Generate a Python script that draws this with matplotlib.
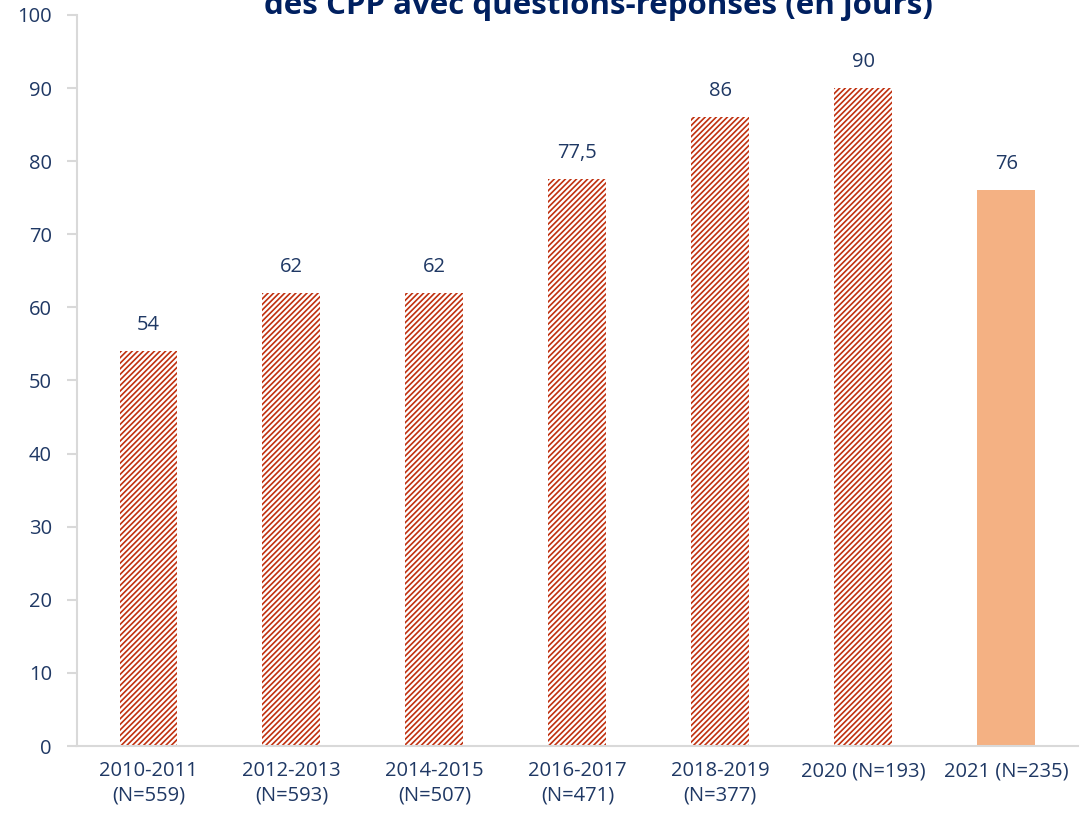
import matplotlib.pyplot as plt
import numpy as np

plt.rcParams['font.family'] = ['Open Sans', 'DejaVu Sans']

# données
categories = ["2010-2011\n(N=559)", "2012-2013\n(N=593)", "2014-2015\n(N=507)",
              "2016-2017\n(N=471)", "2018-2019\n(N=377)", "2020 (N=193)", "2021 (N=235)"]
values = [54, 62, 62, 77.5, 86, 90, 76]
value_labels = ["54", "62", "62", "77,5", "86", "90", "76"]
hatched = [True, True, True, True, True, True, False]

navy = "#1F3864"
hatch_red = "#C0300F"
orange = "#F4B183"
grey = "#D9D9D9"

plt.rcParams['hatch.linewidth'] = 1.2
plt.rcParams['hatch.color'] = hatch_red

fig = plt.figure(figsize=(10.92, 8.18), dpi=100)
ax = fig.add_axes([0.0705, 0.088, 0.9165, 0.8937])

x = np.arange(len(categories))
for i, (v, h) in enumerate(zip(values, hatched)):
    if h:
        ax.bar(x[i], v, width=0.405, color="white", edgecolor=hatch_red,
               hatch="//////", linewidth=0)
    else:
        ax.bar(x[i], v, width=0.405, color=orange, linewidth=0)
    ax.text(x[i], v + 2.2, value_labels[i], ha="center", va="bottom",
            fontsize=14.5, color=navy)

ax.set_xlim(-0.5, len(categories) - 0.5)
ax.set_ylim(0, 100)
ax.set_yticks(range(0, 101, 10))
ax.set_xticks(x)
ax.set_xticklabels(categories, linespacing=1.3)

for s in ["top", "right"]:
    ax.spines[s].set_visible(False)
for s in ["left", "bottom"]:
    ax.spines[s].set_color(grey)
    ax.spines[s].set_linewidth(1.5)
ax.tick_params(axis="y", colors=grey, labelcolor=navy, labelsize=14.5,
               length=7, width=1.5, pad=11)
ax.tick_params(axis="x", length=0, labelcolor=navy, labelsize=14.5, pad=11)

# titre (première ligne coupée dans l'original)
fig.text(0.548, 0.983, "Délai moyen de traitement\ndes CPP avec questions-réponses (en jours)",
         ha="center", va="baseline", fontsize=22.5, fontweight="bold", color="#002060",
         linespacing=1.2)

fig.savefig("out.png", dpi=100)
